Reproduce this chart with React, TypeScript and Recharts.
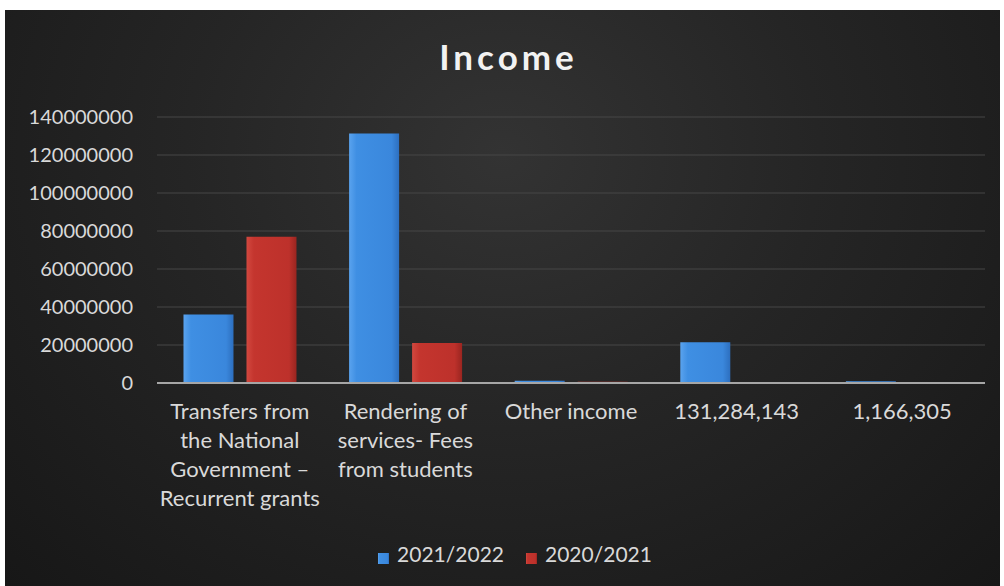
import React from "react";
import {
  Bar,
  BarChart,
  CartesianGrid,
  Legend,
  XAxis,
  YAxis,
  ReferenceLine
} from "recharts";

// categories as they appear under the axis (line breaks follow the picture)
const categories = [
  "Transfers from\nthe National\nGovernment –\nRecurrent grants",
  "Rendering of\nservices- Fees\nfrom students",
  "Other income",
  "131,284,143",
  "1,166,305"
];

const values2122 = [36000000, 131284143, 1166305, 21500000, 900000];
const values2021 = [77000000, 21000000, 600000, 0, 0];

const yTicks = [0, 20000000, 40000000, 60000000, 80000000, 100000000, 120000000, 140000000];

const seriesOrder = ["2021/2022", "2020/2021"];

const data = categories.map((name, i) => ({
  name,
  y2122: values2122[i],
  y2021: values2021[i]
}));

const FONT = "Lato, 'Open Sans', sans-serif";
const TEXT = "#d9d9d9";

function CategoryTick(props: any) {
  const { x, y, payload } = props;
  const lines: string[] = String(payload.value).split("\n");
  return (
    <text
      x={x}
      y={y + 28}
      textAnchor="middle"
      fill={TEXT}
      fontSize={22}
      fontFamily={FONT}
    >
      {lines.map((l, i) => (
        <tspan key={i} x={x} dy={i === 0 ? 0 : 29}>
          {l}
        </tspan>
      ))}
    </text>
  );
}

export default function App() {
  return (
    <div
      style={{
        position: "fixed",
        left: 0,
        top: 0,
        width: 1004,
        height: 586,
        background: "#ffffff",
        overflow: "hidden"
      }}
    >
      <div
        style={{
          position: "absolute",
          left: 5,
          top: 10,
          width: 995,
          height: 576,
          background:
            "radial-gradient(ellipse at 50% 25%, #333333 0%, #252525 45%, #171717 100%)"
        }}
      >
        <div
          style={{
            position: "absolute",
            left: 0,
            width: 1007,
            top: 25,
            textAlign: "center",
            color: "#f2f2f2",
            fontFamily: FONT,
            fontWeight: 700,
            fontSize: 35,
            letterSpacing: 4
          }}
        >
          Income
        </div>
        <BarChart
          width={995}
          height={576}
          data={data}
          margin={{ top: 107, right: 15, left: 0, bottom: 20 }}
          barCategoryGap="16%"
          barGap={13}
        >
          <defs>
            <linearGradient id="gBlue" x1="0" y1="0" x2="1" y2="0">
              <stop offset="0%" stopColor="#5aa3ee" />
              <stop offset="15%" stopColor="#3f8fe3" />
              <stop offset="85%" stopColor="#3a87dc" />
              <stop offset="100%" stopColor="#2d6fbf" />
            </linearGradient>
            <linearGradient id="gRed" x1="0" y1="0" x2="1" y2="0">
              <stop offset="0%" stopColor="#d2483f" />
              <stop offset="15%" stopColor="#c4352e" />
              <stop offset="85%" stopColor="#bd312b" />
              <stop offset="100%" stopColor="#9a2520" />
            </linearGradient>
          </defs>
          <CartesianGrid vertical={false} stroke="#474747" strokeWidth={1} />
          <XAxis
            dataKey="name"
            tick={<CategoryTick />}
            tickLine={false}
            axisLine={false}
            interval={0}
            height={158}
          />
          <YAxis
            ticks={yTicks}
            domain={[0, 140000000]}
            width={152}
            tickLine={false}
            axisLine={false}
            tickMargin={18}
            tick={{ fill: TEXT, fontSize: 20, fontFamily: FONT }}
          />
          <ReferenceLine y={0} stroke="#a6a6a6" strokeWidth={2} />
          <Legend
            iconType="square"
            iconSize={11}
            wrapperStyle={{ paddingLeft: 31 }}
            itemSorter={(item: any) => seriesOrder.indexOf(item.value)}
            formatter={(value: string) => (
              <span
                style={{
                  color: TEXT,
                  fontSize: 21,
                  fontFamily: FONT,
                  paddingLeft: 4,
                  paddingRight: 12
                }}
              >
                {value}
              </span>
            )}
          />
          <Bar
            dataKey="y2122"
            name="2021/2022"
            fill="url(#gBlue)"
            legendType="square"
            isAnimationActive={false}
          />
          <Bar
            dataKey="y2021"
            name="2020/2021"
            fill="url(#gRed)"
            legendType="square"
            isAnimationActive={false}
          />
        </BarChart>
      </div>
    </div>
  );
}
